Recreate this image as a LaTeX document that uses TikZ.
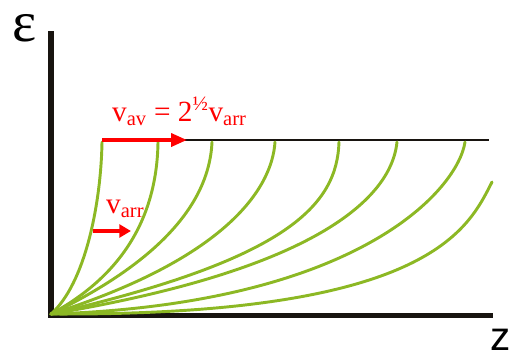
\documentclass[tikz,border=0pt]{standalone}
\usepackage{fontspec}
\setmainfont{Liberation Serif}
\newfontfamily\axisfont{Liberation Sans}
\usetikzlibrary{arrows.meta, positioning}
\definecolor{curvegreen}{RGB}{140,184,36}
\definecolor{axisblack}{RGB}{24,20,16}

\begin{document}
\begin{tikzpicture}[x=0.03cm, y=0.03cm,
    axisline/.style={draw=axisblack, line width=4.6pt},
    curve/.style={draw=curvegreen, line width=2.5pt, line cap=round},
    velarrow/.style={draw=red, line width=3pt},
    vlabel/.style={text=red, inner sep=0pt, font=\fontsize{25}{30}\selectfont}]
  \useasboundingbox (0,0) rectangle (510,354);

  % axes
  \coordinate (O) at (51,40);
  \coordinate (ytop) at (51,323);
  \coordinate (xend) at (493,38.5);
  \draw[axisline] (ytop) |- (xend);
  \node[inner sep=0pt, font=\fontsize{49}{50}\selectfont] (eps) at (24.5,325.5) {ε};
  \node[inner sep=0pt, font=\axisfont\fontsize{34.5}{36}\selectfont] (zlab) at (501,14.5) {z};

  % plateau
  \coordinate (pstart) at (102,214);
  \coordinate (pend) at (489,214);
  \draw[axisblack, line width=1.3pt] (pstart) -- (pend);

  % profiles
  \draw[curve] (O) .. controls (85,70) and (101,150) .. (102,212);
  \draw[curve] (O) .. controls (125,80) and (157,140) .. (158,212);
  \draw[curve] (O) .. controls (150,88) and (209,145) .. (212,212);
  \draw[curve] (O) .. controls (225,95) and (272,165) .. (275,212);
  \draw[curve] (O) .. controls (290,95) and (337,150) .. (339,212);
  \draw[curve] (O) .. controls (350,90) and (393,172) .. (397,212);
  \draw[curve] (O) .. controls (360,50) and (458,165) .. (465,212);
  \draw[curve] (O) .. controls (430,38) and (468,125) .. (492,172);

  % velocities
  \coordinate (avtip) at (187,214);
  \draw[velarrow, -{Triangle[length=13.5pt, width=11pt]}] (pstart) -- (avtip);
  \node[vlabel, anchor=base west] (vav) at (112,233) {v\textsubscript{av} = 2\textsuperscript{½}v\textsubscript{arr}};
  \coordinate (arrtail) at (93,123);
  \coordinate (arrtip) at (131,123);
  \draw[velarrow, -{Triangle[length=10pt, width=11pt]}] (arrtail) -- (arrtip);
  \node[vlabel, anchor=base west] (varr) at (106,141) {v\textsubscript{arr}};
\end{tikzpicture}
\end{document}
